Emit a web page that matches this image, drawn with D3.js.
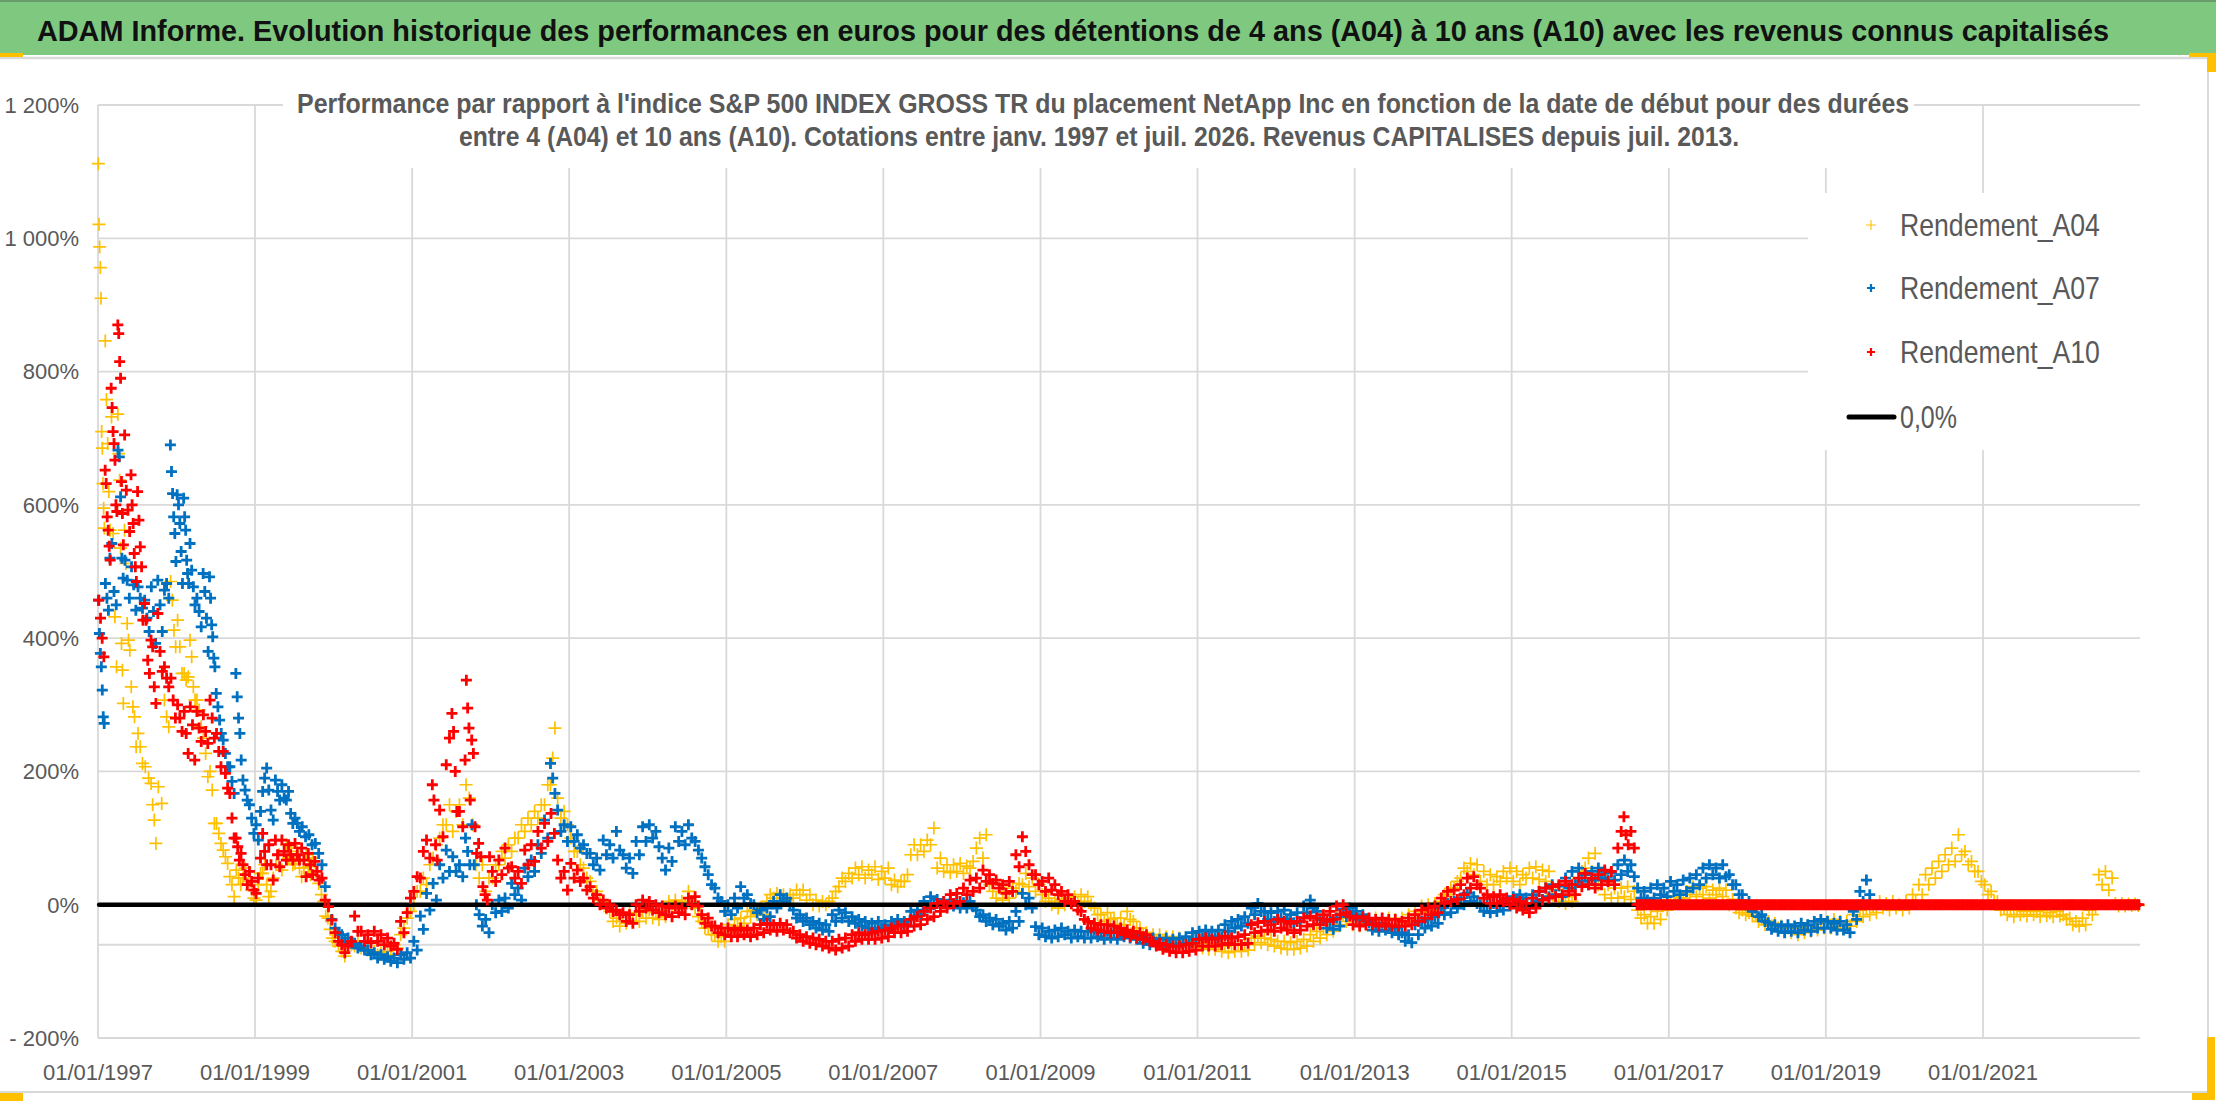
<!DOCTYPE html>
<html>
<head>
<meta charset="utf-8">
<script src="https://cdn.jsdelivr.net/npm/d3@7"></script>
<style>
  body { margin: 0; background: #fff; }
  svg { display: block; font-family: "Liberation Sans", Arial, sans-serif; }
</style>
</head>
<body>
<svg id="chart" width="2216" height="1102"></svg>
<script>
"use strict";

// Chart data.
// One entry per month starting January 1997; an entry holds the readings seen in that month.
const firstMonth = new Date(1997, 0, 1);
const xDomain = [new Date(1997, 0, 1), new Date(2023, 0, 1)];
const xTickYears = [1997, 1999, 2001, 2003, 2005, 2007, 2009, 2011, 2013, 2015, 2017, 2019, 2021];
const xTickLabels = ["01/01/1997", "01/01/1999", "01/01/2001", "01/01/2003", "01/01/2005", "01/01/2007",
    "01/01/2009", "01/01/2011", "01/01/2013", "01/01/2015", "01/01/2017", "01/01/2019", "01/01/2021"];
const yTickValues = [-200, 0, 200, 400, 600, 800, 1000, 1200];
const yTickLabels = ["- 200%", "0%", "200%", "400%", "600%", "800%", "1 000%", "1 200%"];
const xAxisCrossing = -60;
const seriesNames = ["Rendement_A04", "Rendement_A07", "Rendement_A10"];
const zeroLineName = "0,0%";
const zeroLineDates = [new Date(1997, 0, 6), new Date(2022, 11, 30)];
const zeroLineValues = [0, 0];

const rendementA04 = [
    // 1997
    [1112,1021,987,956,910,710,685,632,595,565], [846,758,692,620,562], [732,557,432,357], [736,677,637,535,392,352,302],
    [562,512,422,397,382], [327,297,282,237], [257,237,212], [207,190], [182,150,127,92], [177,152], [307,282,267], [485,457,412,387],
    // 1998
    [427,387,347], [347,337,342], [397,372,327,307], [307,292,267], [250,227,192], [200,172,122], [122,107,92], [82,72,62],
    [42,30,12], [52,40,30], [40,55,30], [35,22,10],
    // 1999
    [7,30,47], [47,60,30], [12,20,40], [60,75], [52,75,90], [70,85,60], [62,80,55], [42,55,75], [57,45,70], [50,32], [15,5,-17], [-20,-37,-50],
    // 2000
    [-55,-62], [-70,-77], [-65,-60], [-62,-55], [-65,-62], [-68,-72], [-70,-75], [-72,-78], [-70,-75], [-60,-65], [-45,-35], [-20,-10],
    // 2001
    [0,20], [20,40], [30,60], [70,90], [100,120], [120,150], [110,140], [150,120], [180,160], [120,60], [40,60], [20,40],
    // 2002
    [40,60], [60,80], [70,90], [80,100], [100,120], [110,130], [120,140], [130,150], [150,180], [180,220,265], [160,130], [140,120],
    // 2003
    [100,80], [80,60], [55,40], [35,20], [20,7], [5,-5], [-10,-25], [-20,-32], [-15,-28], [-12,-25], [-15,-25], [-10,-20],
    // 2004
    [-8,-20], [-12,-22], [-10,-18], [5,-2], [7,-2], [5,0], [20,5], [-5,-18], [-25,-35], [-35,-45], [-45,-55], [-48,-55],
    // 2005
    [-30,-40], [-22,-32], [-20,-28], [-10,-18], [-8,-15], [-5,-15], [5,15], [10,17], [5,15], [8,15], [10,22], [15,22],
    // 2006
    [7,15], [0,7], [-2,5], [0,5], [10,20], [27,40], [35,47], [40,55], [45,57], [40,52], [45,57], [38,50],
    // 2007
    [40,55], [30,37], [27,35], [35,45], [75,90], [75,90], [80,97], [90,115], [55,70], [50,60], [48,60], [50,62],
    // 2008
    [47,58], [55,65], [85,100], [70,105], [30,20], [10,25], [7,20], [10,25], [20,32], [30,47], [27,40], [20,30],
    // 2009
    [15,5], [10,0], [5,-5], [8,0], [10,2], [12,2], [15,5], [12,0], [-5,-15], [-15,-25], [-12,-22], [-20,-30],
    // 2010
    [-20,-30], [-10,-22], [-25,-35], [-35,-45], [-42,-50], [-45,-55], [-45,-55], [-48,-57], [-48,-57], [-50,-58], [-52,-60], [-55,-63],
    // 2011
    [-55,-65], [-58,-67], [-58,-67], [-60,-70], [-62,-72], [-60,-70], [-60,-70], [-58,-68], [-50,-60], [-47,-57], [-50,-60], [-52,-62],
    // 2012
    [-55,-65], [-55,-67], [-57,-67], [-55,-65], [-52,-62], [-45,-55], [-40,-50], [-35,-45], [-30,-40], [-20,-30], [-15,-25], [-20,-30],
    // 2013
    [-22,-32], [-20,-30], [-22,-30], [-20,-30], [-22,-32], [-20,-30], [-22,-32], [-20,-28], [-15,-25], [-10,-20], [-2,-12], [0,-10],
    // 2014
    [2,-8], [5,15], [15,25], [25,35], [40,55], [50,62], [45,60], [35,50], [30,45], [30,42], [35,50], [40,55],
    // 2015
    [35,50], [30,45], [40,55], [40,57], [38,52], [35,50], [15,22], [5,15], [2,12], [5,15], [40,50], [55,70],
    // 2016
    [50,77], [30,45], [15,30], [10,25], [10,25], [12,27], [8,20], [-8,-20], [-15,-28], [-18,-28], [-10,-22], [0,-8],
    // 2017
    [5,12], [2,10], [10,20], [15,27], [12,25], [15,27], [10,22], [15,25], [12,22], [0,8], [-5,-12], [-8,-15],
    // 2018
    [-12,-17], [-17,-25], [-22,-30], [-25,-32], [-28,-35], [-32,-40], [-35,-42], [-35,-45], [-35,-42], [-32,-40], [-30,-38], [-28,-35],
    // 2019
    [-25,-35], [-22,-32], [-25,-35], [-25,-32], [-15,-25], [-8,-18], [-5,-15], [-2,-12], [5,-5], [2,-8], [5,-5], [0,-8],
    // 2020
    [5,-5], [15,5], [30,15], [45,30], [55,40], [65,50], [75,60], [85,65], [105,75], [80,60], [65,50], [50,35],
    // 2021
    [30,15], [20,5], [5,-8], [-5,-15], [-8,-18], [-8,-15], [-10,-17], [-8,-15], [-10,-18], [-8,-16], [-12,-18], [-10,-17],
    // 2022
    [-15,-22], [-20,-30], [-25,-32], [-20,-30], [-8,-15], [-5,45], [30,50], [22,40], [2,-2], [2,-2], [1,-1], [1,-1]
];

const rendementA07 = [
    // 1997
    [457,407,377,357,322,282,272], [482,460,442,520], [542,470,450], [682,672,612,520,490], [517,487,460], [507,480,442],
    [477,460,445], [457,430,410], [477,440,392], [487,450,410], [472,482,460], [690,650,617,582,557,515],
    // 1998
    [615,600,572,530,482], [610,582,562,517,497,482], [542,502,477,450], [460,440,417], [497,470,430,380], [492,460,420,402,370,357],
    [317,297,277,257], [247,227,207], [207,185,167], [347,312,280,257,217], [187,172,157], [150,130,107],
    // 1999
    [120,97,140], [170,190,205], [172,142,127], [187,170,157], [180,160,157], [170,137,122], [130,122,110], [117,102], [105,90], [92,77], [60,27], [0,-22],
    // 2000
    [-35,-42], [-45,-55], [-50,-58], [-58,-65], [-62,-68], [-68,-75], [-72,-80], [-75,-82], [-78,-85], [-80,-87], [-75,-82], [-72,-80],
    // 2001
    [-55,-68], [-17,-37], [17,-8], [32,7], [60,40], [82,50], [72,50], [60,42], [100,80,60], [120,60,0], [-15,-32], [-22,-42],
    // 2002
    [0,-12], [7,-10], [10,-5], [32,15], [25,7], [55,42], [67,50], [90,77], [127,100], [212,190,167], [142,110], [120,95],
    // 2003
    [117,95], [105,85], [90,77], [77,60], [70,52], [97,75], [90,70], [110,82], [75,55], [70,47], [95,75], [117,95],
    // 2004
    [120,100], [110,87], [70,52], [85,65], [117,95], [110,90], [120,100], [95,82], [70,57], [45,30], [25,10], [5,-10],
    // 2005
    [0,-15], [10,-5], [27,10], [15,2], [0,-12], [-8,-22], [-5,-18], [5,-5], [15,5], [10,0], [-8,-20], [-15,-25],
    // 2006
    [-20,-30], [-25,-35], [-28,-38], [-30,-40], [-15,-25], [-8,-20], [-12,-25], [-18,-28], [-22,-32], [-25,-35], [-28,-38], [-25,-35],
    // 2007
    [-30,-38], [-25,-32], [-22,-30], [-25,-32], [-10,-18], [-8,-15], [5,-5], [12,0], [8,-2], [5,-2], [7,-2], [5,-5],
    // 2008
    [3,-5], [5,-3], [-8,-18], [-15,-25], [-20,-30], [-22,-32], [-28,-38], [-25,-35], [-10,-25], [17,0], [10,-5], [-33,-45],
    // 2009
    [-35,-48], [-40,-50], [-38,-48], [-35,-45], [-40,-50], [-38,-48], [-40,-50], [-40,-50], [-38,-48], [-42,-52], [-40,-50], [-42,-52],
    // 2010
    [-40,-48], [-42,-50], [-45,-52], [-48,-58], [-50,-60], [-50,-60], [-52,-62], [-50,-60], [-52,-62], [-50,-58], [-48,-58], [-42,-52],
    // 2011
    [-40,-50], [-38,-48], [-40,-50], [-38,-48], [-30,-40], [-25,-35], [-22,-32], [-18,-28], [-5,-15], [2,-10], [-10,-22], [-12,-25],
    // 2012
    [-10,-20], [-8,-22], [-15,-27], [-12,-25], [-2,-12], [7,-5], [-10,-22], [-22,-35], [-25,-37], [-20,-32], [-7,-18], [-5,-15],
    // 2013
    [-10,-22], [-15,-25], [-27,-38], [-30,-40], [-28,-38], [-32,-42], [-35,-45], [-42,-55], [-45,-57], [-30,-45], [-25,-35], [-22,-32],
    // 2014
    [-18,-28], [-5,-15], [2,-12], [5,-5], [10,0], [17,5], [12,2], [0,-10], [0,-12], [2,-10], [0,-8], [8,-2],
    // 2015
    [12,2], [15,5], [10,-5], [15,5], [20,8], [25,12], [30,15], [28,12], [40,25], [50,30], [55,35], [45,30],
    // 2016
    [50,37], [55,40], [50,37], [48,37], [60,45], [67,50], [60,42], [25,10], [20,7], [25,10], [30,15], [25,12],
    // 2017
    [35,20], [30,15], [37,20], [40,25], [45,30], [55,40], [60,45], [55,40], [60,42], [45,30], [30,15], [15,0],
    // 2018
    [5,-10], [-5,-18], [-15,-25], [-27,-37], [-30,-40], [-32,-42], [-30,-40], [-32,-42], [-28,-38], [-30,-40], [-25,-35], [-22,-35],
    // 2019
    [-25,-35], [-28,-38], [-25,-38], [-30,-42], [-10,-22], [20,5], [37,15]
];

const rendementA10 = [
    // 1997
    [457,430,400,372], [652,632,582,562,538,517], [775,746,710,692,667,600,590], [870,857,815,790,635,587,540],
    [705,622,592,560], [645,600,572,527,507,485], [620,577,537,507,427], [452,427,367,347], [397,387,327,302],
    [437,380,350], [357,340,327], [340,307,280],
    // 1998
    [300,280,260], [290,257,227], [297,270,217], [290,265,245], [285,260,242], [307,280,250], [257,230,207], [230,197,175],
    [167,130,100], [100,87,67,77], [60,45,30], [50,35,22],
    // 1999
    [17,40,70], [107,80,60], [90,60,37], [97,75,57], [97,80,67], [90,75,67], [92,75,67], [85,67,42], [77,60,45], [65,50,37], [40,7], [-3,-23],
    // 2000
    [-42,-55], [-60,-72], [-62,-55], [-17,-40], [-40,-55], [-45,-57], [-40,-55], [-45,-60], [-50,-62], [-58,-67], [-25,-42], [-12,10],
    // 2001
    [20,42], [40,80], [97,70], [180,157,90,67], [142,102], [210,250], [287,260,200,140], [140,117], [217,337,295,265,157],
    [247,227,117,77], [92,72,27], [15,7,72],
    // 2002
    [50,35], [67,45], [85,55], [57,40], [50,32], [82,60], [90,65], [110,85], [122,95], [137,107], [67,40], [50,22],
    // 2003
    [62,40], [52,35], [40,22], [27,10], [15,0], [7,-5], [0,-10], [-8,-15], [-12,-25], [-15,-28], [0,-10], [7,-5],
    // 2004
    [5,-8], [0,-12], [-2,-15], [-5,-18], [-2,-12], [-5,-15], [10,0], [12,-2], [-15,-28], [-20,-32], [-32,-42], [-35,-45],
    // 2005
    [-35,-48], [-38,-48], [-35,-45], [-38,-48], [-35,-45], [-30,-42], [-28,-38], [-30,-40], [-28,-38], [-30,-42], [-40,-50], [-45,-55],
    // 2006
    [-48,-58], [-50,-60], [-52,-62], [-55,-65], [-55,-68], [-52,-65], [-50,-62], [-45,-55], [-42,-52], [-45,-52], [-42,-52], [-40,-50],
    // 2007
    [-38,-48], [-35,-42], [-32,-42], [-30,-40], [-22,-32], [-18,-30], [-10,-22], [-5,-18], [2,-10], [5,-5], [15,2], [17,5],
    // 2008
    [25,15], [37,20], [40,25], [52,35], [45,32], [37,25], [30,17], [35,20], [75,57], [102,80], [60,45], [45,30],
    // 2009
    [35,20], [40,22], [30,15], [20,5], [15,2], [5,-8], [-10,-22], [-25,-35], [-28,-38], [-30,-40], [-30,-42], [-32,-42],
    // 2010
    [-35,-45], [-38,-48], [-40,-50], [-42,-52], [-45,-55], [-55,-62], [-58,-67], [-60,-70], [-62,-72], [-62,-72], [-60,-70], [-58,-68],
    // 2011
    [-52,-62], [-50,-62], [-52,-62], [-50,-60], [-47,-58], [-50,-60], [-48,-60], [-45,-58], [-30,-42], [-27,-40], [-25,-38], [-30,-40],
    // 2012
    [-22,-35], [-25,-38], [-28,-42], [-25,-38], [-20,-32], [-17,-30], [-20,-30], [-15,-25], [-10,-22], [-2,-15], [0,-12], [-17,-30],
    // 2013
    [-20,-32], [-18,-30], [-20,-30], [-22,-32], [-20,-30], [-22,-32], [-22,-32], [-25,-32], [-20,-30], [-15,-25], [-8,-20], [-5,-15],
    // 2014
    [-2,-12], [10,2], [20,5], [22,8], [30,15], [40,25], [42,30], [25,10], [15,2], [12,2], [15,5], [10,0],
    // 2015
    [8,-5], [5,-8], [2,-12], [10,-5], [20,7], [25,10], [27,12], [30,15], [35,20], [30,15], [40,27], [47,30],
    // 2016
    [40,25], [45,30], [52,35], [50,30], [85,110], [132,105,90], [110,85], [0,0,0], [0,0,0], [0,0,0], [0,0,0], [0,0,0],
    // 2017
    [0,0,0], [0,0,0], [0,0,0], [0,0,0], [0,0,0], [0,0,0], [0,0,0], [0,0,0], [0,0,0], [0,0,0], [0,0,0], [0,0,0],
    // 2018
    [0,0,0], [0,0,0], [0,0,0], [0,0,0], [0,0,0], [0,0,0], [0,0,0], [0,0,0], [0,0,0], [0,0,0], [0,0,0], [0,0,0],
    // 2019
    [0,0,0], [0,0,0], [0,0,0], [0,0,0], [0,0,0], [0,0,0], [0,0,0], [0,0,0], [0,0,0], [0,0,0], [0,0,0], [0,0,0],
    // 2020
    [0,0,0], [0,0,0], [0,0,0], [0,0,0], [0,0,0], [0,0,0], [0,0,0], [0,0,0], [0,0,0], [0,0,0], [0,0,0], [0,0,0],
    // 2021
    [0,0,0], [0,0,0], [0,0,0], [0,0,0], [0,0,0], [0,0,0], [0,0,0], [0,0,0], [0,0,0], [0,0,0], [0,0,0], [0,0,0],
    // 2022
    [0,0,0], [0,0,0], [0,0,0], [0,0,0], [0,0,0], [0,0,0], [0,0,0], [0,0,0], [0,0,0], [0,0,0], [0,0,0], [0,0,0]
];

const titleText = "ADAM Informe. Evolution historique des performances en euros pour des détentions de 4 ans (A04) à 10 ans (A10) avec les revenus connus capitalisés";
const subtitleLines = [
    "Performance par rapport à l'indice S&P 500 INDEX GROSS TR  du placement NetApp Inc en fonction de la date de début pour des durées",
    "entre 4 (A04) et 10 ans (A10). Cotations entre janv. 1997 et juil. 2026. Revenus CAPITALISES depuis juil. 2013."
];

// Layout and styles.
const W = 2216, H = 1102;
const plot = {left: 98, right: 2140, top: 105, bottom: 1038};
const gridColor = "#d9d9d9";
const textGrey = "#595959";
const seriesStyle = [
    {color: "#ffc000", size: 6.5, width: 1.7},
    {color: "#0070c0", size: 5.5, width: 2.8},
    {color: "#ff0000", size: 5.5, width: 2.8}
];

const svg = d3.select("#chart");

const x = d3.scaleTime().domain(xDomain).range([plot.left, plot.right]);
const y = d3.scaleLinear().domain([-200, 1200]).range([plot.bottom, plot.top]);

// Spread the readings of one month evenly over that month.
function monthPoints(values) {
    let pts = [];
    values.forEach(function(entry, m) {
        let vals = Array.isArray(entry) ? entry : [entry];
        let start = d3.timeMonth.offset(firstMonth, m);
        let end = d3.timeMonth.offset(firstMonth, m + 1);
        vals.forEach(function(v, k) {
            pts.push({date: new Date(+start + (k + 0.5) / vals.length * (end - start)), value: v});
        });
    });
    return pts;
}

function plusPath(s) {
    return "M" + (-s) + ",0H" + s + "M0," + (-s) + "V" + s;
}

// Writes a text and squeezes it horizontally to the width seen in the reference (the original font is narrow).
function fitText(parent, str, x0, y0, width, size, weight, fill) {
    let g = parent.append("g");
    let t = g.append("text")
        .attr("x", 0).attr("y", 0)
        .style("font-size", size + "px").style("font-weight", weight).style("fill", fill)
        .text(str);
    let natural = t.node().getComputedTextLength();
    g.attr("transform", "translate(" + x0 + "," + y0 + ") scale(" + (width / natural) + ",1)");
    return t;
}

// Title bar.
svg.append("rect").attr("x", 0).attr("y", 0).attr("width", W).attr("height", 55).style("fill", "#7ec97f");
svg.append("line").attr("x1", 0).attr("x2", W).attr("y1", 1).attr("y2", 1)
    .style("stroke", "#6a9c6b").style("stroke-width", 2);
fitText(svg, titleText, 37, 41, 2073, 30, "bold", "#111");

// Chart frame.
svg.append("line").attr("x1", 0).attr("x2", 2208).attr("y1", 58).attr("y2", 58)
    .style("stroke", gridColor).style("stroke-width", 2.5);
svg.append("line").attr("x1", 2208).attr("x2", 2208).attr("y1", 58).attr("y2", 1092)
    .style("stroke", gridColor).style("stroke-width", 2);
svg.append("line").attr("x1", 0).attr("x2", 2208).attr("y1", 1092).attr("y2", 1092)
    .style("stroke", gridColor).style("stroke-width", 2);

// Gridlines.
let grid = svg.append("g").attr("class", "grid");
grid.selectAll(".hgrid").data(yTickValues).enter().append("line")
    .attr("class", "hgrid")
    .attr("x1", plot.left).attr("x2", plot.right)
    .attr("y1", function(d) { return y(d); }).attr("y2", function(d) { return y(d); })
    .style("stroke", gridColor).style("stroke-width", 1.8);
grid.selectAll(".vgrid").data(xTickYears).enter().append("line")
    .attr("class", "vgrid")
    .attr("x1", function(d) { return x(new Date(d, 0, 1)); }).attr("x2", function(d) { return x(new Date(d, 0, 1)); })
    .attr("y1", plot.top).attr("y2", plot.bottom)
    .style("stroke", gridColor).style("stroke-width", 1.8);
grid.append("line")
    .attr("x1", plot.left).attr("x2", plot.right)
    .attr("y1", y(xAxisCrossing)).attr("y2", y(xAxisCrossing))
    .style("stroke", gridColor).style("stroke-width", 2);

// Axis labels.
svg.selectAll(".ylabel").data(yTickValues).enter().append("text")
    .attr("class", "ylabel")
    .attr("x", 79).attr("y", function(d) { return y(d); }).attr("dy", "0.36em")
    .style("text-anchor", "end").style("font-size", "22px").style("fill", textGrey)
    .text(function(d, i) { return yTickLabels[i]; });
svg.selectAll(".xlabel").data(xTickYears).enter().append("text")
    .attr("class", "xlabel")
    .attr("x", function(d) { return x(new Date(d, 0, 1)); }).attr("y", 1080)
    .style("text-anchor", "middle").style("font-size", "22px").style("fill", textGrey)
    .text(function(d, i) { return xTickLabels[i]; });

// Series markers, zero line drawn between A07 and A10.
let allSeries = [rendementA04, rendementA07, rendementA10];
let marks = svg.append("g").attr("class", "marks");
function drawSeries(i) {
    let st = seriesStyle[i];
    marks.append("g").selectAll("path").data(monthPoints(allSeries[i])).enter().append("path")
        .attr("transform", function(d) { return "translate(" + x(d.date) + "," + y(d.value) + ")"; })
        .attr("d", plusPath(st.size))
        .style("fill", "none").style("stroke", st.color).style("stroke-width", st.width);
}
drawSeries(0);
drawSeries(1);
let zeroLine = d3.line().x(function(d) { return x(d.date); }).y(function(d) { return y(d.value); });
marks.append("path")
    .datum(zeroLineDates.map(function(d, i) { return {date: d, value: zeroLineValues[i]}; }))
    .attr("d", zeroLine)
    .style("fill", "none").style("stroke", "#000").style("stroke-width", 4.5).style("stroke-linecap", "round");
drawSeries(2);

// Subtitle, on a white box over the grid.
svg.append("rect").attr("x", 283).attr("y", 84).attr("width", 1631).attr("height", 84).style("fill", "#fff");
let subX = [297, 459], subY = [113, 146], subLen = [1613, 1281];
subtitleLines.forEach(function(line, i) {
    fitText(svg, line, subX[i], subY[i], subLen[i], 28, "bold", textGrey);
});

// Legend.
svg.append("rect").attr("x", 1808).attr("y", 193).attr("width", 342).attr("height", 257).style("fill", "#fff");
let legendY = [225, 288, 352, 417];
seriesNames.forEach(function(name, i) {
    let st = seriesStyle[i];
    svg.append("path")
        .attr("transform", "translate(1871," + legendY[i] + ")")
        .attr("d", plusPath(st.size - 1.5))
        .style("fill", "none").style("stroke", st.color).style("stroke-width", st.width - 0.6);
    fitText(svg, name, 1900, legendY[i] + 11, 200, 31, "normal", textGrey);
});
svg.append("line").attr("x1", 1849).attr("x2", 1894).attr("y1", legendY[3]).attr("y2", legendY[3])
    .style("stroke", "#000").style("stroke-width", 5).style("stroke-linecap", "round");
fitText(svg, zeroLineName, 1900, legendY[3] + 11, 57, 31, "normal", textGrey);

// Selection handles at the chart corners.
let handles = [[0, 53, 23, 4], [2189, 53, 27, 4], [2207, 53, 9, 19], [0, 1093, 23, 8], [2207, 1037, 8, 63], [2192, 1093, 23, 7]];
svg.selectAll(".handle").data(handles).enter().append("rect")
    .attr("class", "handle")
    .attr("x", function(d) { return d[0]; }).attr("y", function(d) { return d[1]; })
    .attr("width", function(d) { return d[2]; }).attr("height", function(d) { return d[3]; })
    .style("fill", "#ffc000");
</script>
</body>
</html>
